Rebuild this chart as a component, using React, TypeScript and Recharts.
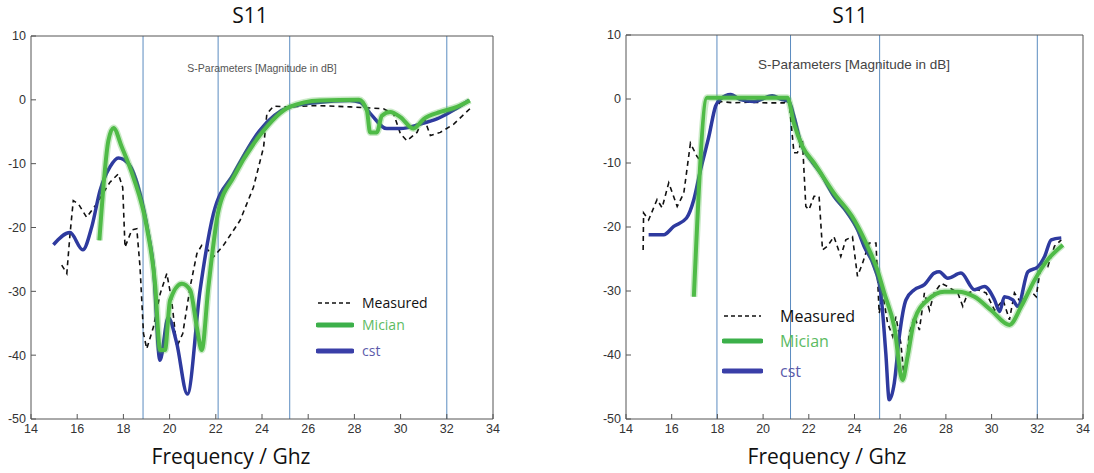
import React from "react";
import { LineChart, Line, XAxis, YAxis, ReferenceLine } from "recharts";

type Pt = [number, number];

const xTicks = [14, 16, 18, 20, 22, 24, 26, 28, 30, 32, 34];
const yTicks = [-50, -40, -30, -20, -10, 0, 10];

// left panel
const leftBands = [18.85, 22.1, 25.2, 32.0];
const leftCst: Pt[] = [
  [14.97, -22.7], [15.69, -20.8], [16.24, -23.5], [16.63, -19.9], [16.99, -14.2],
  [17.42, -10.5], [17.78, -9.1], [18.22, -10.0], [18.72, -14.7], [19.08, -21],
  [19.3, -26.2], [19.58, -40.8], [19.94, -34.1], [20.3, -38], [20.77, -46.1],
  [21.32, -29.8], [21.9, -17.8], [22.77, -11.6], [23.9, -4.8], [25.2, -1.1],
  [26.4, -0.4], [27.8, -0.1], [28.25, -0.4], [28.7, -2.2], [29.4, -4.5],
  [30.0, -4.5], [30.85, -3.8], [31.57, -3.0], [32.3, -1.6], [32.95, -0.1],
];
const leftMician: Pt[] = [
  [16.96, -22], [17.35, -6.4], [17.57, -4.4], [17.93, -7.4], [18.43, -12.1],
  [19.01, -19.9], [19.37, -28.8], [19.59, -39.2], [19.8, -39.2], [20.02, -31.4],
  [20.53, -28.8], [20.89, -29.8], [21.18, -35.6], [21.39, -39.2], [21.68, -29.3],
  [22.12, -17.3], [22.77, -12.1], [23.9, -5.6], [25.2, -1.1], [26.5, -0.1],
  [28.2, 0], [28.54, -1.7], [28.68, -5.1], [28.97, -5.1], [29.19, -2.5],
  [29.55, -1.9], [29.99, -2.7], [30.56, -4.5], [31.0, -3.0], [31.72, -1.9],
  [32.44, -1.1], [33.0, -0.1],
];
const leftMeasured: Pt[] = [
  [15.33, -25.9], [15.55, -27.2], [15.69, -21], [15.83, -15.8], [16.05, -16.3],
  [16.41, -18.4], [16.84, -16.3], [17.42, -12.9], [17.78, -11.6], [17.97, -13.7],
  [18.07, -23.1], [18.36, -20.4], [18.58, -20.2], [18.72, -26.2], [18.87, -36.6],
  [19.01, -39], [19.3, -35.6], [19.59, -30.4], [19.88, -27.2], [20.09, -31.4],
  [20.31, -38.7], [20.57, -36.6], [20.89, -29.3], [21.18, -24.1], [21.39, -22.8],
  [21.61, -23.3], [21.9, -24.6], [22.33, -22.8], [23.05, -18.9], [23.63, -13.7],
  [24.07, -7.4], [24.21, -2.2], [24.5, -1.0], [25.08, -1.1], [26.38, -0.9],
  [27.82, -1.1], [29.26, -1.4], [29.7, -2.2], [29.99, -5.3], [30.27, -6.4],
  [30.71, -5.1], [31.0, -2.7], [31.29, -5.6], [31.72, -5.1], [32.3, -3.8],
  [33.0, -1.4],
];

// right panel
const rightBands = [17.98, 21.2, 25.1, 32.0];
const rightCst: Pt[] = [
  [14.99, -21.2], [15.65, -21.2], [16.09, -19.9], [16.65, -18.6], [16.97, -15.7],
  [17.26, -11.1], [17.63, -5.8], [17.92, -1.1], [18.14, 0], [18.58, 0.7],
  [19.01, -0.1], [19.6, -0.4], [20.4, 0.5], [20.77, 0], [21.13, -0.4],
  [21.35, -2.7], [21.65, -6.9], [22.08, -9.5], [22.52, -11.6], [23.1, -15.2],
  [23.69, -17.8], [24.13, -20.4], [24.42, -23], [24.86, -26.2], [25.15, -30.3],
  [25.37, -39.7], [25.52, -47], [25.74, -44.4], [25.96, -37.1], [26.25, -31.4],
  [26.62, -29.8], [27.06, -29], [27.49, -27.2], [27.71, -27], [28.08, -28],
  [28.66, -27.2], [29.25, -29.8], [29.69, -29.3], [30.13, -31.4], [30.35, -33.2],
  [30.56, -30.9], [30.93, -31.4], [31.15, -32.4], [31.59, -27], [32.03, -26.2],
  [32.32, -24.6], [32.61, -22], [33.05, -21.7],
];
const rightMician: Pt[] = [
  [16.97, -30.9], [17.55, 0.2], [21.06, 0.2], [21.35, -3.8], [21.72, -7.4],
  [22.23, -10], [23.1, -14.7], [23.99, -18.9], [24.57, -23], [25.0, -26.7],
  [25.3, -30.3], [25.74, -35.6], [26.1, -43.9], [26.32, -40.3], [26.62, -34.5],
  [27.2, -31.4], [27.93, -30.1], [28.52, -30.1], [29.25, -30.9], [29.98, -33],
  [30.78, -35.3], [31.3, -32.4], [31.88, -28.3], [32.46, -25.1], [33.12, -22.8],
];
const rightMeasured: Pt[] = [
  [14.75, -23.6], [14.77, -17.8], [14.99, -18.9], [15.36, -15.7], [15.58, -17],
  [15.87, -13.1], [16.24, -16.8], [16.53, -14.7], [16.82, -6.9], [17.11, -9],
  [17.33, -10], [17.55, -6.9], [17.85, -1.7], [18.14, -0.4], [18.72, -0.6],
  [19.31, -0.5], [20.18, -0.6], [20.92, -0.6], [21.13, -0.1], [21.35, -8.4],
  [21.5, -8.4], [21.72, -6.4], [21.87, -16.8], [22.01, -17.3], [22.23, -15.2],
  [22.45, -15.2], [22.6, -23.6], [22.82, -23], [23.1, -21.5], [23.4, -24.6],
  [23.62, -22], [23.91, -21.5], [24.13, -27.7], [24.35, -25.7], [24.64, -22.5],
  [24.94, -22.5], [25.08, -33.5], [25.23, -30.3], [25.45, -35], [25.67, -37.1],
  [25.81, -34], [26.03, -38.2], [26.18, -43.9], [26.4, -36.6], [26.62, -34],
  [26.84, -36.1], [27.06, -30.3], [27.28, -33], [27.49, -30.3], [27.79, -28.8],
  [28.08, -29.3], [28.52, -30.3], [28.74, -32.4], [28.96, -30.3], [29.39, -29.8],
  [29.76, -30.3], [30.13, -33], [30.5, -31.4], [30.78, -34.5], [31.0, -30.3],
  [31.3, -31.9], [31.66, -29.8], [31.95, -30.9], [32.17, -25.7], [32.46, -26.2],
  [32.75, -23], [33.05, -22],
];

const BLUE = "#2e3a9f";
const GREEN = "#4fbb47";
const BAND = "#5b8cc0";
const AXIS = "#555";
const tickFont = { fill: "#333", fontSize: 12.5, fontFamily: "Liberation Sans, Arial, sans-serif" };
const uiFont = "'Open Sans', 'Liberation Sans', sans-serif";

const toRows = (pts: Pt[]) => pts.map(([x, y]) => ({ x, y }));
const noTick = () => <g />;

type PanelProps = {
  left: number;
  margin: { top: number; right: number; bottom: number; left: number };
  bands: number[];
  cst: Pt[];
  mician: Pt[];
  measured: Pt[];
};

function Panel({ left, margin, bands, cst, mician, measured }: PanelProps) {
  return (
    <div style={{ position: "absolute", left, top: 0 }}>
      <LineChart width={547} height={473} margin={margin}>
        <XAxis
          dataKey="x"
          type="number"
          domain={[14, 34]}
          ticks={xTicks}
          allowDataOverflow
          height={1}
          tickSize={-5}
          tickMargin={10}
          tick={tickFont}
          stroke={AXIS}
        />
        <XAxis
          xAxisId="top"
          orientation="top"
          type="number"
          domain={[14, 34]}
          ticks={xTicks}
          height={1}
          tickSize={-5}
          tick={noTick}
          stroke={AXIS}
        />
        <YAxis
          type="number"
          domain={[-50, 10]}
          ticks={yTicks}
          allowDataOverflow
          width={1}
          tickSize={-5}
          tickMargin={10}
          tick={tickFont}
          stroke={AXIS}
        />
        <YAxis
          yAxisId="right"
          orientation="right"
          type="number"
          domain={[-50, 10]}
          ticks={yTicks}
          width={1}
          tickSize={-5}
          tick={noTick}
          stroke={AXIS}
        />
        {bands.map((b) => (
          <ReferenceLine key={b} x={b} stroke={BAND} strokeWidth={1} />
        ))}
        <Line
          data={toRows(measured)}
          dataKey="y"
          type="linear"
          stroke="#111"
          strokeWidth={1.6}
          strokeDasharray="5 4"
          dot={false}
          isAnimationActive={false}
        />
        <Line
          data={toRows(cst)}
          dataKey="y"
          type="monotone"
          stroke={BLUE}
          strokeWidth={3.5}
          dot={false}
          isAnimationActive={false}
        />
        <Line
          data={toRows(mician)}
          dataKey="y"
          type="monotone"
          stroke={GREEN}
          strokeOpacity={0.3}
          strokeWidth={7}
          dot={false}
          isAnimationActive={false}
        />
        <Line
          data={toRows(mician)}
          dataKey="y"
          type="monotone"
          stroke={GREEN}
          strokeWidth={4}
          dot={false}
          isAnimationActive={false}
        />
      </LineChart>
    </div>
  );
}

type LegendProps = {
  x: number;
  textX: number;
  rows: number[];
  lineLen: number;
  fontSize: number;
};

function LegendBox({ x, textX, rows, lineLen, fontSize }: LegendProps) {
  const items = [
    { label: "Measured", color: "#111", text: "#111", dash: "4 3", w: 1.5 },
    { label: "Mician", color: "#3cb04a", text: "#5cbb62", dash: undefined, w: 5 },
    { label: "cst", color: "#3a3fa8", text: "#5b5bab", dash: undefined, w: 5 },
  ];
  return (
    <>
      {items.map((it, i) => (
        <React.Fragment key={it.label}>
          <svg
            width={lineLen + 4}
            height={10}
            style={{ position: "absolute", left: x - 2, top: rows[i] - 5 }}
          >
            <line
              x1={2}
              x2={lineLen + 2}
              y1={5}
              y2={5}
              stroke={it.color}
              strokeWidth={it.w}
              strokeDasharray={it.dash}
              strokeLinecap={it.dash ? "butt" : "round"}
            />
          </svg>
          <div
            style={{
              position: "absolute",
              left: textX,
              top: rows[i] - fontSize * 0.7,
              fontFamily: uiFont,
              fontSize,
              lineHeight: `${fontSize * 1.4}px`,
              color: it.text,
              whiteSpace: "nowrap",
            }}
          >
            {it.label}
          </div>
        </React.Fragment>
      ))}
    </>
  );
}

function Label({ cx, cy, text, size, color, family }: { cx: number; cy: number; text: string; size: number; color: string; family: string }) {
  return (
    <div
      style={{
        position: "absolute",
        left: cx - 200,
        width: 400,
        top: cy - size * 0.6,
        lineHeight: `${size * 1.2}px`,
        textAlign: "center",
        fontSize: size,
        fontFamily: family,
        color,
        whiteSpace: "nowrap",
      }}
    >
      {text}
    </div>
  );
}

export default function App() {
  return (
    <div style={{ position: "absolute", left: 0, top: 0, width: 1094, height: 473, background: "#fff", overflow: "hidden" }}>
      <Panel
        left={0}
        margin={{ top: 35, right: 53, bottom: 53, left: 30 }}
        bands={leftBands}
        cst={leftCst}
        mician={leftMician}
        measured={leftMeasured}
      />
      <Panel
        left={547}
        margin={{ top: 34, right: 10, bottom: 53, left: 78 }}
        bands={rightBands}
        cst={rightCst}
        mician={rightMician}
        measured={rightMeasured}
      />
      <Label cx={250} cy={16} text="S11" size={21} color="#111" family={uiFont} />
      <Label cx={850} cy={16} text="S11" size={21} color="#111" family={uiFont} />
      <Label cx={231} cy={457} text="Frequency / Ghz" size={21} color="#111" family={uiFont} />
      <Label cx={827} cy={457} text="Frequency / Ghz" size={21} color="#111" family={uiFont} />
      <Label cx={262} cy={68} text="S-Parameters [Magnitude in dB]" size={10.5} color="#555" family="Liberation Sans, Arial, sans-serif" />
      <Label cx={854} cy={65} text="S-Parameters [Magnitude in dB]" size={13.5} color="#444" family="Liberation Sans, Arial, sans-serif" />
      <LegendBox x={318} textX={362} rows={[303, 325, 351]} lineLen={34} fontSize={14} />
      <LegendBox x={724} textX={780} rows={[316, 341, 371]} lineLen={37} fontSize={16} />
    </div>
  );
}
